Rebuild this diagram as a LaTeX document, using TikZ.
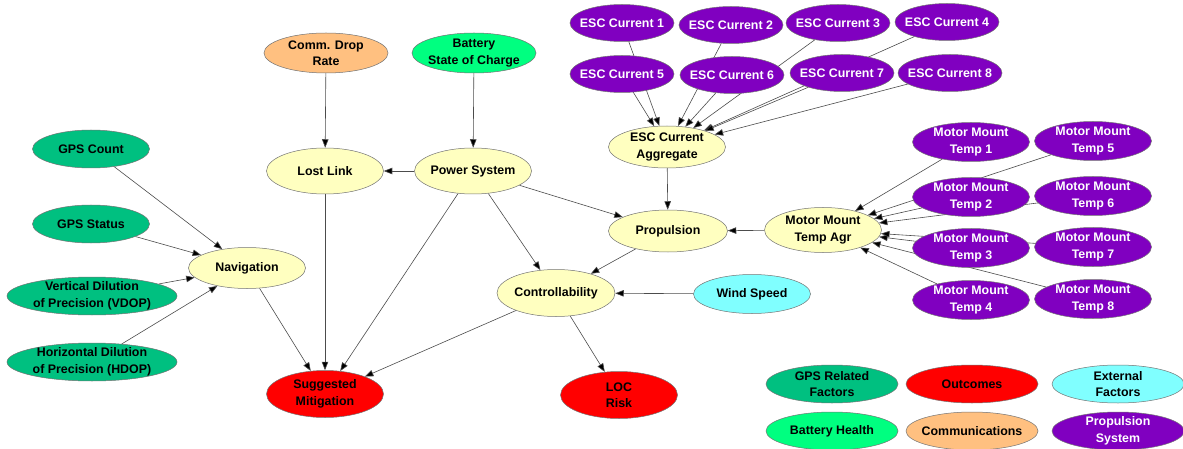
\documentclass[tikz,border=0pt]{standalone}
\usepackage{fontspec}
\setmainfont{Liberation Sans}
\usetikzlibrary{shapes.geometric,arrows.meta}
\pgfdeclarelayer{bg}
\pgfsetlayers{bg,main}
\definecolor{cmid}{RGB}{255,255,192}
\definecolor{cgps}{RGB}{0,192,128}
\definecolor{cbatt}{RGB}{0,255,128}
\definecolor{ccomm}{RGB}{255,192,128}
\definecolor{coutc}{RGB}{255,0,0}
\definecolor{cext}{RGB}{128,255,255}
\definecolor{cprop}{RGB}{128,0,192}
\tikzset{
  lbl/.style={inner sep=0pt, align=center, font=\bfseries\fontsize{12.4}{16.5}\selectfont},
  txt/.style={label={[lbl]center:{#1}}},
  wtxt/.style={label={[lbl,text=white]center:{#1}}},
  nd/.style={ellipse, draw=black!55, line width=0.5pt, inner sep=0pt,
    minimum width=117pt, minimum height=40pt},
  mid/.style={nd, fill=cmid},
  gps/.style={nd, fill=cgps},
  batt/.style={nd, fill=cbatt},
  comm/.style={nd, fill=ccomm},
  outc/.style={nd, fill=coutc},
  ext/.style={nd, fill=cext},
  prop/.style={nd, fill=cprop},
  esc/.style={prop, minimum width=104pt, minimum height=37pt},
  mmt/.style={prop, minimum width=117pt, minimum height=39pt},
  leg/.style={minimum width=132pt, minimum height=38pt},
  edge/.style={draw=black!70, line width=0.6pt, -{Triangle[length=8.5pt,width=6.5pt,fill=black]}},
}
\begin{document}
\begin{tikzpicture}[x=1pt,y=-1pt]
\useasboundingbox (0,0) rectangle (1183,449);
% ESC currents
\node[esc, wtxt={ESC Current 1}] (e1) at (622,23) {};
\node[esc, wtxt={ESC Current 2}] (e2) at (731,25) {};
\node[esc, wtxt={ESC Current 3}] (e3) at (838,23) {};
\node[esc, wtxt={ESC Current 4}] (e4) at (947,22) {};
\node[esc, wtxt={ESC Current 5}] (e5) at (622,74) {};
\node[esc, wtxt={ESC Current 6}] (e6) at (732,75) {};
\node[esc, wtxt={ESC Current 7}] (e7) at (842,73) {};
\node[esc, wtxt={ESC Current 8}] (e8) at (950,73) {};
\node[mid, minimum height=42pt, txt={ESC Current\\Aggregate}] (eagg) at (667,147) {};
% Motor mount temps
\node[mmt, wtxt={Motor Mount\\Temp 1}] (m1) at (971,142) {};
\node[mmt, wtxt={Motor Mount\\Temp 2}] (m2) at (971,197) {};
\node[mmt, wtxt={Motor Mount\\Temp 3}] (m3) at (971,248) {};
\node[mmt, wtxt={Motor Mount\\Temp 4}] (m4) at (971,300) {};
\node[mmt, wtxt={Motor Mount\\Temp 5}] (m5) at (1093,141) {};
\node[mmt, wtxt={Motor Mount\\Temp 6}] (m6) at (1093,196) {};
\node[mmt, wtxt={Motor Mount\\Temp 7}] (m7) at (1093,247) {};
\node[mmt, wtxt={Motor Mount\\Temp 8}] (m8) at (1093,299) {};
\node[mid, minimum height=45pt, txt={Motor Mount\\Temp Agr}] (magg) at (823,230) {};
% middle
\node[comm, minimum width=124pt, txt={Comm. Drop\\Rate}] (cdr) at (326,53) {};
\node[batt, minimum width=124pt, txt={Battery\\State of Charge}] (bsoc) at (474,53) {};
\node[mid, minimum height=46pt, txt={Lost Link}] (ll) at (325,171) {};
\node[mid, minimum height=46pt, txt={Power System}] (ps) at (473,171) {};
\node[mid, minimum width=119pt, minimum height=42pt, txt={Propulsion}] (pr) at (668,231) {};
\node[mid, minimum width=118pt, minimum height=47pt, txt={Controllability}] (ct) at (556,293) {};
\node[ext, minimum height=39pt, txt={Wind Speed}] (ws) at (752,294) {};
\node[outc, minimum height=47pt, txt={LOC\\Risk}] (loc) at (619,395) {};
\node[outc, minimum height=47pt, txt={Suggested\\Mitigation}] (sm) at (325,394) {};
% left
\node[gps, minimum height=38pt, txt={GPS Count}] (gc) at (91,149) {};
\node[gps, minimum height=38pt, txt={GPS Status}] (gs) at (91,224) {};
\node[gps, minimum width=170pt, minimum height=38pt, txt={Vertical Dilution\\of Precision (VDOP)}] (vd) at (92,296) {};
\node[gps, minimum width=170pt, minimum height=38pt, txt={Horizontal Dilution\\of Precision (HDOP)}] (hd) at (92,362) {};
\node[mid, minimum height=41pt, txt={Navigation}] (nav) at (247,268) {};
% legend
\node[gps, leg, txt={GPS Related\\Factors}] (l1) at (832,384) {};
\node[outc, leg, txt={Outcomes}] (l2) at (972,384) {};
\node[ext, leg, txt={External\\Factors}] (l3) at (1118,384) {};
\node[batt, leg, txt={Battery Health}] (l4) at (832,431) {};
\node[comm, leg, txt={Communications}] (l5) at (972,431) {};
\node[prop, leg, wtxt={Propulsion\\System}] (l6) at (1118,431) {};
\begin{pgfonlayer}{bg}
\foreach \s in {e1,e2,e3,e4,e5,e6,e7,e8} \draw[edge] (\s) -- (eagg);
\foreach \s in {m1,m2,m3,m4,m5,m6,m7,m8} \draw[edge] (\s) -- (magg);
\foreach \s in {gc,gs,vd,hd} \draw[edge] (\s) -- (nav);
\draw[edge] (cdr) -- (ll);
\draw[edge] (bsoc) -- (ps);
\draw[edge] (ps) -- (ll);
\draw[edge] (ps) -- (pr);
\draw[edge] (ps) -- (ct);
\draw[edge] (ps) -- (sm);
\draw[edge] (ll) -- (sm);
\draw[edge] (nav) -- (sm);
\draw[edge] (ct) -- (sm);
\draw[edge] (ct) -- (loc);
\draw[edge] (pr) -- (ct);
\draw[edge] (ws) -- (ct);
\draw[edge] (eagg) -- (pr);
\draw[edge] (magg) -- (pr);
\end{pgfonlayer}
\end{tikzpicture}
\end{document}
